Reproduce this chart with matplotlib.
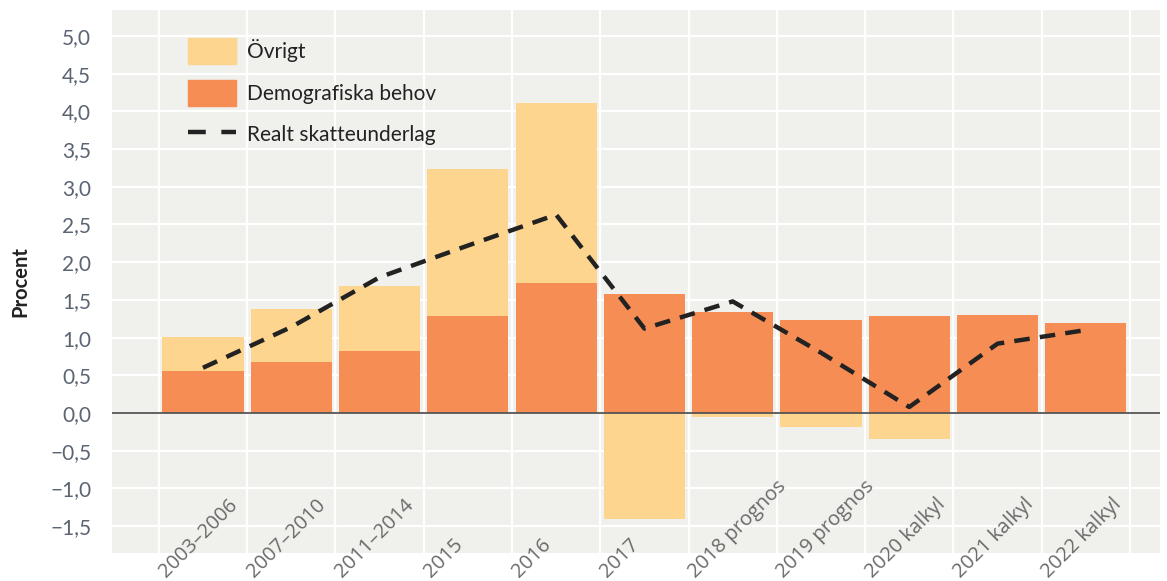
import numpy as np
import matplotlib.pyplot as plt
from matplotlib.patches import Patch
from matplotlib.lines import Line2D

plt.rcParams['font.family'] = ['Lato', 'DejaVu Sans']

# Data
categories = ["2003–2006", "2007–2010", "2011–2014", "2015", "2016", "2017",
              "2018 prognos", "2019 prognos", "2020 kalkyl", "2021 kalkyl", "2022 kalkyl"]
demografi = [0.56, 0.68, 0.82, 1.29, 1.72, 1.58, 1.34, 1.24, 1.28, 1.30, 1.20]
ovrigt = [0.45, 0.70, 0.86, 1.95, 2.39, -1.41, -0.05, -0.19, -0.35, 0.0, 0.0]
skatteunderlag = [0.60, 1.14, 1.80, 2.22, 2.63, 1.12, 1.48, 0.80, 0.08, 0.92, 1.10]
yticks = [-1.5, -1.0, -0.5, 0.0, 0.5, 1.0, 1.5, 2.0, 2.5, 3.0, 3.5, 4.0, 4.5, 5.0]

c_demo = "#f58d54"
c_ovr = "#fdd58e"
bg = "#f0f0ec"

x = np.arange(len(categories))
demo = np.array(demografi)
ovr = np.array(ovrigt)
bottom_ovr = np.where(ovr >= 0, demo, 0)

fig = plt.figure(figsize=(11.67, 5.81), dpi=100)
ax = fig.add_axes([0.096, 0.048, 0.898, 0.935])
ax.set_facecolor(bg)

w = 0.92
ax.bar(x, ovr, w, bottom=bottom_ovr, color=c_ovr, zorder=2)
ax.bar(x, demo, w, color=c_demo, zorder=3)
ax.plot(x, skatteunderlag, color="#222222", lw=3.2, dashes=(3.5, 2.3),
        solid_capstyle="butt", zorder=5)
ax.axhline(0, color="#555555", lw=1.3, zorder=4)

ax.set_xlim(-1.03, 10.84)
ax.set_ylim(-1.857, 5.345)

# grid drawn as plain lines so the tick labels stay on top
ax.set_yticks(yticks)
ax.set_yticklabels([f"{v:.1f}".replace(".", ",").replace("-", "\u2212") for v in yticks])
for b in np.append(x - 0.5, 10.5):
    ax.axvline(b, color="white", lw=1.6, zorder=0.3)
for t in yticks:
    ax.axhline(t, color="white", lw=1.6, zorder=0.3)
ax.set_axisbelow(True)
ax.tick_params(axis="y", length=0, pad=15, labelsize=15, labelcolor="#5b6472")
ax.tick_params(axis="x", which="both", length=0)

ax.set_xticks(x - 0.42)
ax.set_xticklabels(categories, rotation=45, ha="left", va="baseline",
                   rotation_mode="anchor", fontsize=14.5, color="#6a6a6a",
                   family=["Open Sans", "DejaVu Sans"])
ax.tick_params(axis="x", pad=18)

for s in ax.spines.values():
    s.set_visible(False)

ax.set_ylabel("Procent", fontsize=14.5, fontweight="bold", color="#222222", labelpad=14)

handles = [Patch(color=c_ovr), Patch(color=c_demo),
           Line2D([], [], color="#222222", lw=3.2, dashes=(4.0, 3.5))]
ax.legend(handles, ["Övrigt", "Demografiska behov", "Realt skatteunderlag"],
          loc="upper left", bbox_to_anchor=(0.0725, 0.948), frameon=False,
          fontsize=15, handlelength=2.3, handleheight=1.55, labelspacing=0.75,
          handletextpad=0.53, borderpad=0, borderaxespad=0,
          labelcolor="#222222")

fig.savefig("out.png", dpi=100)
